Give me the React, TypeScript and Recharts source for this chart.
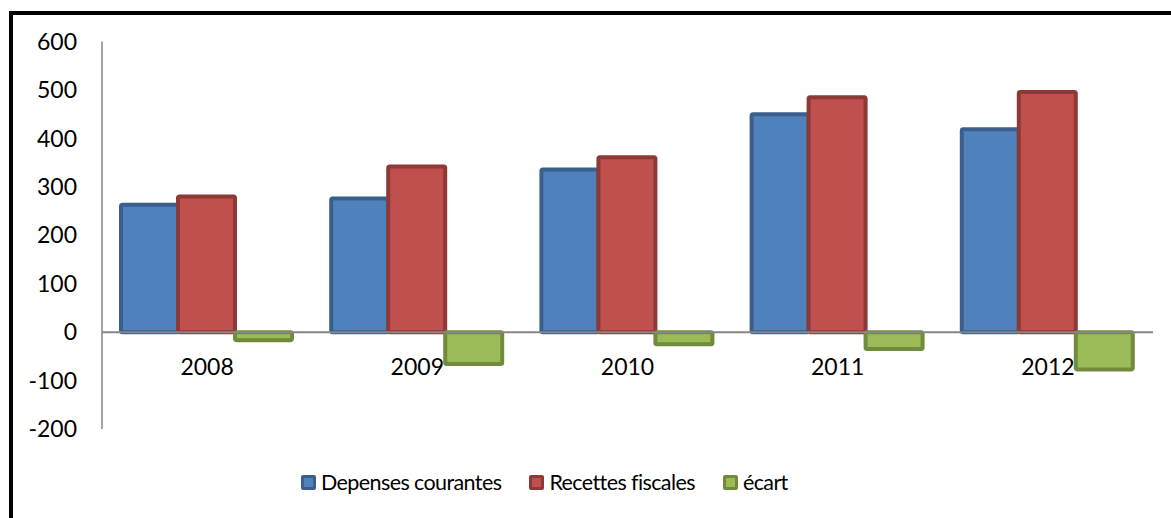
import { BarChart, Bar, XAxis, YAxis, ReferenceLine, Legend } from 'recharts';

// yearly figures
const years = ['2008', '2009', '2010', '2011', '2012'];
const depenses = [263, 276, 336, 450, 419];
const recettes = [280, 342, 361, 485, 496];
const ecart = [-17, -66, -25, -35, -77];
const yTicks = [-200, -100, 0, 100, 200, 300, 400, 500, 600];

const data = years.map((year, i) => ({
  year,
  depenses: depenses[i],
  recettes: recettes[i],
  ecart: ecart[i],
}));

const SERIES = [
  { key: 'depenses', name: 'Depenses courantes', fill: '#4F81BD', stroke: '#3A5F8C' },
  { key: 'recettes', name: 'Recettes fiscales', fill: '#C0504D', stroke: '#8E3936' },
  { key: 'ecart', name: 'écart', fill: '#9BBB59', stroke: '#718B3D' },
];

const FONT = 'Lato, "DejaVu Sans", sans-serif';

function renderLegend() {
  return (
    <div
      style={{
        display: 'flex',
        alignItems: 'center',
        height: 30,
        fontFamily: FONT,
        fontSize: 21.5,
        letterSpacing: -0.6,
        color: '#000',
      }}
    >
      {SERIES.map((s) => (
        <div key={s.key} style={{ display: 'flex', alignItems: 'center', marginRight: 28 }}>
          <span
            style={{
              display: 'inline-block',
              width: 15,
              height: 15,
              boxSizing: 'border-box',
              border: `3px solid ${s.stroke}`,
              borderRadius: 2,
              background: s.fill,
              marginRight: 5,
            }}
          />
          <span>{s.name}</span>
        </div>
      ))}
    </div>
  );
}

export default function App() {
  return (
    <div style={{ position: 'fixed', left: 0, top: 0, width: 1171, height: 518, overflow: 'hidden', background: '#fff' }}>
      {/* outer frame, runs off the right and bottom edges */}
      <div
        style={{
          position: 'absolute',
          left: 9,
          top: 11,
          width: 1400,
          height: 800,
          border: '4px solid #000',
        }}
      />
      <div style={{ position: 'absolute', left: 0, top: 0, fontFamily: FONT }}>
        <BarChart
          width={1171}
          height={518}
          data={data}
          margin={{ top: 41.5, right: 18, left: 0, bottom: 21 }}
          barCategoryGap={19}
          barGap={0}
        >
          <XAxis
            dataKey="year"
            height={38}
            axisLine={false}
            tickLine={false}
            tickSize={0}
            tick={{ fill: '#000', fontSize: 23, fontFamily: FONT, dy: -72 }}
          />
          <YAxis
            width={102}
            domain={[-200, 600]}
            ticks={yTicks}
            interval={0}
            axisLine={{ stroke: '#868686', strokeWidth: 1.5 }}
            tickLine={false}
            tickSize={0}
            tickMargin={25}
            tick={{ fill: '#000', fontSize: 23, fontFamily: FONT }}
          />
          {SERIES.map((s) => (
            <Bar
              key={s.key}
              dataKey={s.key}
              name={s.name}
              fill={s.fill}
              stroke={s.stroke}
              strokeWidth={4}
              strokeLinejoin="round"
              radius={1.5}
              isAnimationActive={false}
            />
          ))}
          {/* category axis line sits at zero */}
          <ReferenceLine y={0} stroke="#868686" strokeWidth={2} ifOverflow="hidden" />
          <Legend
            verticalAlign="bottom"
            content={renderLegend}
            wrapperStyle={{ left: 301, width: 540 }}
          />
        </BarChart>
      </div>
    </div>
  );
}
